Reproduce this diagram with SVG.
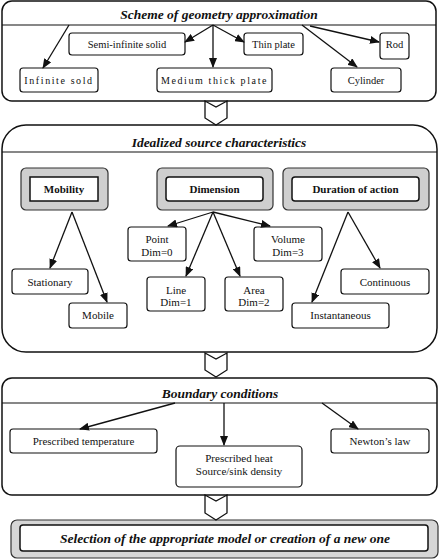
<svg xmlns="http://www.w3.org/2000/svg" width="439" height="559" viewBox="0 0 439 559">
<style>
.sec{fill:#fff;stroke:#111;stroke-width:1.5}
.box{fill:#fff;stroke:#111;stroke-width:1.2}
.shade{fill:#cfcfcf;stroke:#333;stroke-width:1.2}
.inner{fill:#fff;stroke:#111;stroke-width:1.5}
.hdr{stroke:#111;stroke-width:1.2}
.t{font-family:"Liberation Serif","Times New Roman",serif;font-size:11px;fill:#111;text-anchor:middle}
.sp{letter-spacing:1.6px;font-size:10px}
.b{font-weight:bold}
.title{font-family:"Liberation Serif","Times New Roman",serif;font-size:13.5px;font-weight:bold;font-style:italic;fill:#111;text-anchor:middle}
.con{stroke:#111;stroke-width:1.3;fill:none}
.chev{fill:#fff;stroke:#111;stroke-width:1.3}
</style>
<defs>
<marker id="ah" markerWidth="10" markerHeight="8" refX="9" refY="4" orient="auto" markerUnits="userSpaceOnUse" viewBox="0 0 10 8">
<path d="M0,0 L10,4 L0,8 z" fill="#111"/>
</marker>
</defs>

<g id="section-geometry">
<rect class="sec" x="2" y="1" width="434" height="100" rx="10"/>
<line class="hdr" x1="2" y1="25" x2="436" y2="25"/>
<text class="title" x="219" y="19">Scheme of geometry approximation</text>
</g>
<g id="semi-infinite"><rect class="box" x="69" y="33" width="116" height="22" rx="3"/><text class="t" x="127" y="48" style="font-size:10.5px">Semi-infinite solid</text></g>
<g id="thin-plate"><rect class="box" x="244" y="33" width="59" height="22" rx="3"/><text class="t" x="273.5" y="48" style="font-size:10.5px">Thin plate</text></g>
<g id="rod"><rect class="box" x="380" y="33" width="29" height="26" rx="3"/><text class="t" x="394.5" y="48" style="font-size:10.5px">Rod</text></g>
<g id="infinite"><rect class="box" x="20" y="68" width="78" height="24" rx="3"/><text class="t sp" x="59" y="84">Infinite sold</text></g>
<g id="medium"><rect class="box" x="157" y="68" width="115" height="24" rx="3"/><text class="t sp" x="214.5" y="84">Medium thick plate</text></g>
<g id="cylinder"><rect class="box" x="331" y="68" width="70" height="24" rx="3"/><text class="t" x="366" y="84" style="font-size:10.5px">Cylinder</text></g>

<g id="section-source">
<rect class="sec" x="2" y="125" width="435" height="227" rx="24"/>
<line class="hdr" x1="2" y1="152" x2="437" y2="152"/>
<text class="title" x="219" y="147">Idealized source characteristics</text>
</g>
<g id="mobility"><rect class="shade" x="21" y="168" width="87" height="42" rx="5"/><rect class="inner" x="30" y="177" width="68" height="24"/><text class="t b" x="64" y="193">Mobility</text></g>
<g id="dimension"><rect class="shade" x="157" y="168" width="116" height="42" rx="5"/><rect class="inner" x="166" y="177" width="97" height="24" rx="3"/><text class="t b" x="214.5" y="193">Dimension</text></g>
<g id="duration"><rect class="shade" x="283" y="168" width="146" height="42" rx="5"/><rect class="inner" x="292" y="177" width="127" height="24" rx="3"/><text class="t b" x="355.5" y="193">Duration of action</text></g>
<g id="stationary"><rect class="box" x="12" y="269" width="76" height="25" rx="3"/><text class="t" x="50" y="286">Stationary</text></g>
<g id="mobile"><rect class="box" x="69" y="303" width="58" height="25" rx="3"/><text class="t" x="98" y="319">Mobile</text></g>
<g id="point"><rect class="box" x="128" y="227" width="58" height="34" rx="3"/><text class="t" x="157" y="243">Point</text><text class="t" x="157" y="256">Dim=0</text></g>
<g id="volume"><rect class="box" x="254" y="227" width="68" height="34" rx="3"/><text class="t" x="288" y="243">Volume</text><text class="t" x="288" y="256">Dim=3</text></g>
<g id="line"><rect class="box" x="147" y="277" width="58" height="34" rx="3"/><text class="t" x="176" y="294">Line</text><text class="t" x="176" y="306">Dim=1</text></g>
<g id="area"><rect class="box" x="225" y="277" width="58" height="34" rx="3"/><text class="t" x="254" y="294">Area</text><text class="t" x="254" y="306">Dim=2</text></g>
<g id="continuous"><rect class="box" x="341" y="269" width="88" height="25" rx="3"/><text class="t" x="385" y="286">Continuous</text></g>
<g id="instantaneous"><rect class="box" x="292" y="303" width="97" height="25" rx="3"/><text class="t" x="340.5" y="319">Instantaneous</text></g>

<g id="section-boundary">
<rect class="sec" x="2" y="378" width="435" height="117" rx="10"/>
<line class="hdr" x1="2" y1="403" x2="437" y2="403"/>
<text class="title" x="220" y="398">Boundary conditions</text>
</g>
<g id="prescribed-temp"><rect class="box" x="10" y="429" width="147" height="24" rx="3"/><text class="t" x="83.5" y="445">Prescribed temperature</text></g>
<g id="prescribed-heat"><rect class="box" x="176" y="446" width="126" height="41" rx="4"/><text class="t" x="239" y="462">Prescribed heat</text><text class="t" x="239" y="475">Source/sink density</text></g>
<g id="newton"><rect class="box" x="331" y="429" width="98" height="24" rx="3"/><text class="t" x="380" y="445">Newton’s law</text></g>

<g id="selection">
<rect class="shade" x="11" y="520" width="427" height="38" rx="6" style="fill:#d6d6d6"/>
<rect class="inner" x="20" y="525" width="408" height="26" rx="3"/>
<text class="title" x="225" y="543">Selection of the appropriate model or creation of a new one</text>
</g>

<g id="connectors">
<path class="con" marker-end="url(#ah)" d="M69,25 L43,68"/>
<path class="con" marker-end="url(#ah)" d="M213,25 L185,42"/>
<path class="con" marker-end="url(#ah)" d="M213,25 L213,67"/>
<path class="con" marker-end="url(#ah)" d="M213,25 L244,42"/>
<path class="con" marker-end="url(#ah)" d="M302,25 L357,67"/>
<path class="con" marker-end="url(#ah)" d="M310,26 L379,42"/>
<path class="con" marker-end="url(#ah)" d="M72,212 L50,268"/>
<path class="con" marker-end="url(#ah)" d="M72,212 L107,302"/>
<path class="con" marker-end="url(#ah)" d="M213,212 L168,226"/>
<path class="con" marker-end="url(#ah)" d="M213,212 L270,226"/>
<path class="con" marker-end="url(#ah)" d="M213,212 L186,276"/>
<path class="con" marker-end="url(#ah)" d="M213,212 L240,276"/>
<path class="con" marker-end="url(#ah)" d="M348,212 L380,268"/>
<path class="con" marker-end="url(#ah)" d="M348,212 L312,302"/>
<path class="con" marker-end="url(#ah)" d="M175,403 L80,429"/>
<path class="con" marker-end="url(#ah)" d="M224,403 L224,445"/>
<path class="con" marker-end="url(#ah)" d="M322,403 L358,429"/>
<path class="chev" d="M205,101 L216,107 L227,101 L227,118 L216,125 L205,118 z"/>
<path class="chev" d="M205,353 L216,359 L227,353 L227,370 L216,377 L205,370 z"/>
<path class="chev" d="M205,495 L216,501 L227,495 L227,513 L216,520 L205,513 z"/>
</g>
</svg>
